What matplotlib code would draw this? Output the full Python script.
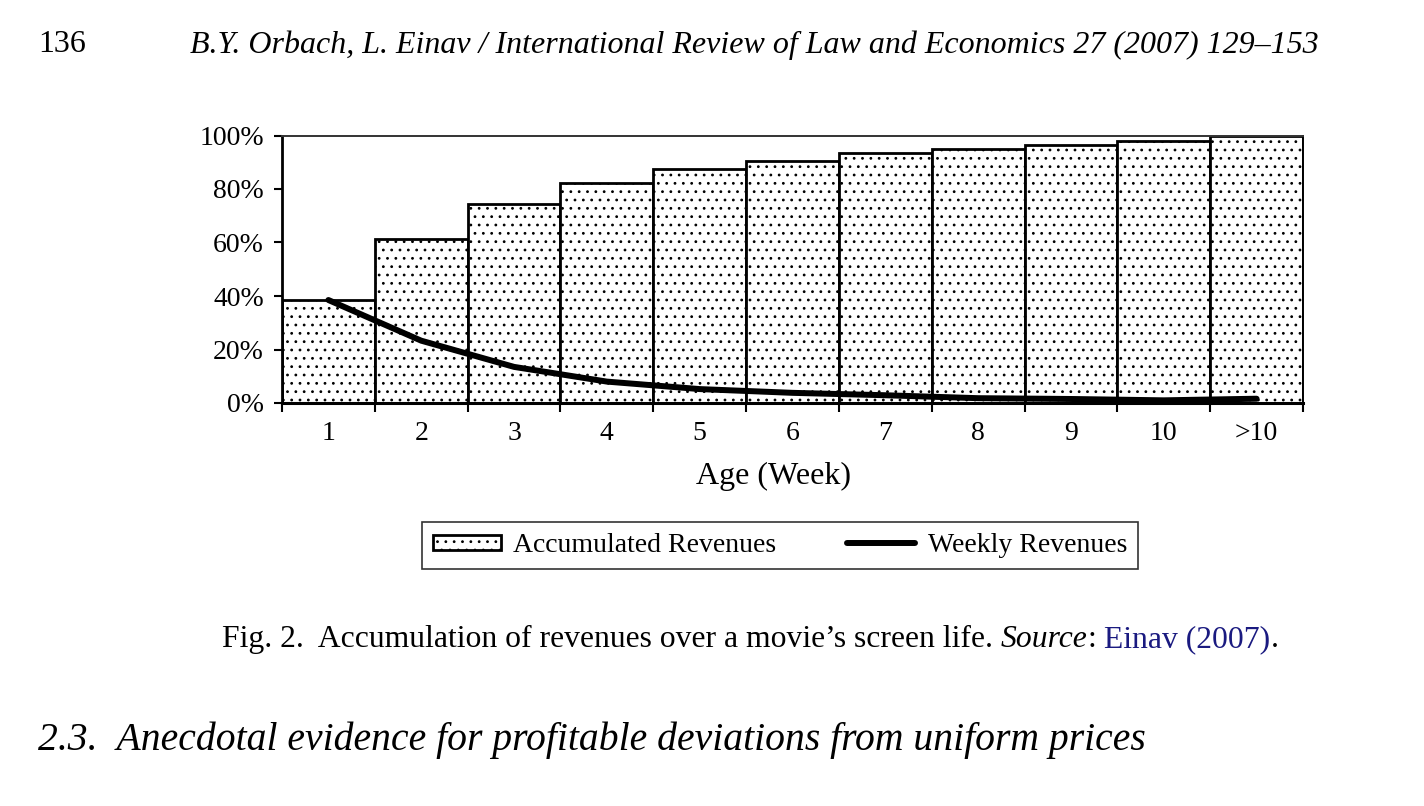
import matplotlib
matplotlib.use('Agg')
import matplotlib.pyplot as plt
import numpy as np

# Datos (porcentaje de ingresos)
weeks = ['1', '2', '3', '4', '5', '6', '7', '8', '9', '10', '>10']
accumulated = [38.5, 61.3, 74.4, 82.1, 87.5, 90.4, 93.3, 95.1, 96.3, 97.8, 100.0]
weekly = [38.5, 23.3, 13.5, 8.0, 5.2, 3.8, 2.9, 1.8, 1.5, 1.0, 1.6]

header_page = '136'
header_text = 'B.Y. Orbach, L. Einav / International Review of Law and Economics 27 (2007) 129\u2013153'
section_text = '2.3.  Anecdotal evidence for profitable deviations from uniform prices'

plt.rcParams['font.family'] = ['Liberation Serif', 'DejaVu Serif']
plt.rcParams['hatch.linewidth'] = 0.8

fig = plt.figure(figsize=(14.24, 8.06), dpi=100)
ax = fig.add_axes([282 / 1424, 1 - 403 / 806, (1303 - 282) / 1424, (403 - 135.5) / 806])

x = np.arange(1, len(weeks) + 1)

# Barras acumuladas con relleno punteado
bars = ax.bar(x, accumulated, width=1.0, color='white', edgecolor='black',
              linewidth=2.0, hatch='..', label='Accumulated Revenues', zorder=2)

# Línea de ingresos semanales
line, = ax.plot(x, weekly, color='black', linewidth=4.3, solid_capstyle='round',
                solid_joinstyle='round', label='Weekly Revenues', zorder=3)

ax.set_xlim(0.5, len(weeks) + 0.5)
ax.set_ylim(0, 100)
ax.set_yticks([0, 20, 40, 60, 80, 100])
ax.set_yticklabels([f'{v}%' for v in [0, 20, 40, 60, 80, 100]])
ax.set_xticks(x)
ax.set_xticklabels(weeks)
ax.set_xticks(np.arange(0.5, len(weeks) + 1, 1.0), minor=True)

ax.tick_params(axis='x', which='major', length=0, pad=13, labelsize=20)
ax.tick_params(axis='x', which='minor', length=6.5, width=1.5, direction='out')
ax.tick_params(axis='y', length=6, width=1.5, direction='out', pad=7, labelsize=20)

ax.spines['left'].set_linewidth(2.0)
ax.spines['bottom'].set_linewidth(2.2)
ax.spines['top'].set_linewidth(1.4)
ax.spines['top'].set_color('#333333')
ax.spines['right'].set_linewidth(1.4)
for sp in ax.spines.values():
    sp.set_zorder(4)

ax.set_xlabel('Age (Week)', fontsize=23)
ax.xaxis.set_label_coords((773 - 282) / 1021, -0.22)

# Leyenda debajo del gráfico
leg = fig.legend([bars, line], ['Accumulated Revenues', 'Weekly Revenues'],
                 loc='center', bbox_to_anchor=(780 / 1424, 1 - 545.5 / 806), ncol=2,
                 fontsize=20, frameon=True, fancybox=False, edgecolor='black',
                 handlelength=2.45, handletextpad=0.45, columnspacing=2.55,
                 borderpad=0.4, handleheight=0.45)
leg.get_frame().set_linewidth(1.2)

# Textos de la página
fig.text(38 / 1424, 1 - 45 / 806, header_page, fontsize=23, va='center', ha='left')
fig.text(190 / 1424, 1 - 45 / 806, header_text, fontsize=23, va='center', ha='left',
         style='italic')

t1 = fig.text(222 / 1424, 1 - 647 / 806, 'Fig. 2.  Accumulation of revenues over a movie\u2019s screen life. ',
              fontsize=22.8, ha='left', va='baseline')
t2 = fig.text(0, 0, 'Source', fontsize=22.8, style='italic', ha='left', va='baseline')
t3 = fig.text(0, 0, ': ', fontsize=22.8, ha='left', va='baseline')
t4 = fig.text(0, 0, 'Einav (2007)', fontsize=22.8, ha='left', va='baseline', color='#1a1a80')
t5 = fig.text(0, 0, '.', fontsize=22.8, ha='left', va='baseline')

fig.canvas.draw()
r = fig.canvas.get_renderer()
prev = t1
for t in [t2, t3, t4, t5]:
    bb = prev.get_window_extent(r)
    t.set_position((bb.x1 / fig.bbox.width, prev.get_position()[1]))
    prev = t

fig.text(38 / 1424, 1 - 750 / 806, section_text, fontsize=28.5, ha='left', va='baseline',
         style='italic')

fig.savefig('out.png', dpi=100)
